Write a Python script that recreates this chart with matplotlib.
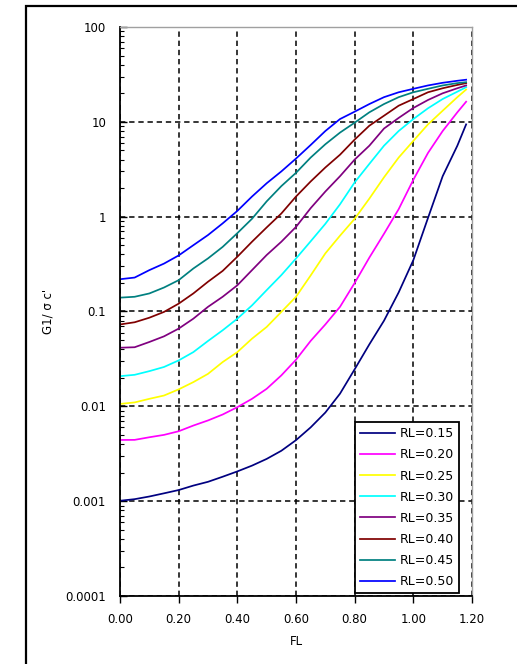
import matplotlib.pyplot as plt
from matplotlib.patches import Rectangle
from matplotlib.ticker import LogLocator, NullFormatter, FixedLocator

plt.rcParams['font.family'] = ['DejaVu Sans']

# ============================================================
# Data
# ============================================================
fl = [0.00, 0.05, 0.10, 0.15, 0.20, 0.25, 0.30, 0.35, 0.40, 0.45, 0.50, 0.55,
      0.60, 0.65, 0.70, 0.75, 0.80, 0.85, 0.90, 0.95, 1.00, 1.05, 1.10, 1.15, 1.18]

g_rl015 = [0.00101, 0.00105, 0.00112, 0.00121, 0.00131, 0.00146, 0.0016, 0.00181,
           0.00206, 0.00237, 0.00279, 0.0034, 0.0044, 0.006, 0.0086, 0.0136,
           0.0246, 0.045, 0.080, 0.159, 0.348, 0.97, 2.67, 5.6, 9.4]
g_rl020 = [0.00442, 0.00443, 0.00472, 0.0050, 0.00546, 0.00627, 0.0071, 0.0082,
           0.0098, 0.012, 0.0153, 0.0212, 0.031, 0.049, 0.073, 0.112,
           0.20, 0.37, 0.66, 1.2, 2.45, 4.7, 8.0, 12.6, 16.3]
g_rl025 = [0.0106, 0.011, 0.012, 0.013, 0.0151, 0.018, 0.022, 0.0293,
           0.0373, 0.0517, 0.0687, 0.099, 0.143, 0.24, 0.41, 0.63,
           0.95, 1.55, 2.6, 4.2, 6.3, 9.4, 13.1, 18.2, 21.9]
g_rl030 = [0.0208, 0.0215, 0.0235, 0.026, 0.0305, 0.0373, 0.0489, 0.0634,
           0.084, 0.116, 0.168, 0.242, 0.362, 0.55, 0.84, 1.35,
           2.3, 3.6, 5.6, 8.0, 10.7, 13.9, 17.4, 20.8, 23.2]
g_rl035 = [0.0415, 0.042, 0.0477, 0.0547, 0.066, 0.084, 0.112, 0.143,
           0.189, 0.273, 0.394, 0.544, 0.78, 1.23, 1.84, 2.67,
           4.0, 5.6, 8.5, 11.0, 14.0, 17.0, 20.0, 22.6, 24.2]
g_rl040 = [0.073, 0.077, 0.086, 0.099, 0.121, 0.155, 0.206, 0.268,
           0.378, 0.544, 0.77, 1.08, 1.63, 2.35, 3.3, 4.5,
           6.5, 9.1, 11.6, 14.8, 17.4, 20.5, 22.6, 24.5, 25.6]
g_rl045 = [0.14, 0.143, 0.155, 0.179, 0.214, 0.284, 0.363, 0.48,
           0.67, 0.95, 1.45, 2.1, 2.9, 4.2, 5.8, 7.7,
           9.8, 12.6, 15.4, 18.2, 20.5, 22.3, 24.2, 25.6, 26.2]
g_rl050 = [0.219, 0.228, 0.273, 0.32, 0.39, 0.50, 0.64, 0.85,
           1.15, 1.63, 2.25, 3.0, 4.1, 5.7, 8.0, 10.7,
           12.8, 15.4, 18.2, 20.5, 22.3, 24.2, 25.8, 27.1, 27.8]

series = [g_rl015, g_rl020, g_rl025, g_rl030, g_rl035, g_rl040, g_rl045, g_rl050]
labels = ["RL=0.15", "RL=0.20", "RL=0.25", "RL=0.30",
          "RL=0.35", "RL=0.40", "RL=0.45", "RL=0.50"]
colors = ["#000080", "#FF00FF", "#FFFF00", "#00FFFF",
          "#800080", "#800000", "#008080", "#0000FF"]

x_ticks = [0.0, 0.2, 0.4, 0.6, 0.8, 1.0, 1.2]
x_ticklabels = ["0.00", "0.20", "0.40", "0.60", "0.80", "1.00", "1.20"]
y_ticks = [0.0001, 0.001, 0.01, 0.1, 1, 10, 100]
y_ticklabels = ["0.0001", "0.001", "0.01", "0.1", "1", "10", "100"]

# ============================================================
# Figure
# ============================================================
W, H = 517, 664
fig = plt.figure(figsize=(W / 100, H / 100), dpi=100)
fig.patch.set_facecolor("white")

# outer chart frame (only left and top edges visible)
fig.patches.append(Rectangle((26 / W, -0.1), 1.2, 1 - 6 / H + 0.1,
                             transform=fig.transFigure, fill=False,
                             edgecolor="black", linewidth=1.6))

ax = fig.add_axes([120 / W, 1 - 596 / H, 352 / W, 569 / H])

for ys, lab, c in zip(series, labels, colors):
    ax.plot(fl, ys, color=c, linewidth=1.25, label=lab)

ax.set_yscale("log")
ax.set_xlim(0, 1.2)
ax.set_ylim(0.0001, 100)

ax.xaxis.set_major_locator(FixedLocator(x_ticks))
ax.set_xticklabels(x_ticklabels)
ax.yaxis.set_major_locator(FixedLocator(y_ticks))
ax.set_yticklabels(y_ticklabels)
ax.yaxis.set_minor_locator(LogLocator(base=10, subs=range(2, 10), numticks=20))
ax.yaxis.set_minor_formatter(NullFormatter())

ax.tick_params(axis="x", direction="out", length=5, width=1.0, labelsize=8.5, pad=7)
ax.tick_params(axis="y", which="major", direction="in", length=5, width=1.0,
               labelsize=8.5, pad=10)
ax.tick_params(axis="y", which="minor", direction="in", length=3, width=0.8)

ax.grid(True, which="major", color="black", linestyle=(0, (3.5, 2.5)), linewidth=1.1)

for side in ["left", "bottom"]:
    ax.spines[side].set_color("black")
    ax.spines[side].set_linewidth(1.3)
for side in ["top", "right"]:
    ax.spines[side].set_color("#a0a0a0")
    ax.spines[side].set_linewidth(1.0)

ax.set_xlabel("FL", fontsize=8.5, labelpad=7)
ax.set_ylabel("G1/ σ c'", fontsize=8.5, labelpad=8)

leg = ax.legend(loc="lower right", bbox_to_anchor=(0.963, 0.005),
                fontsize=9, frameon=True, fancybox=False,
                handlelength=2.8, handletextpad=0.4, labelspacing=0.65,
                borderpad=0.4, borderaxespad=0.0)
leg.get_frame().set_edgecolor("black")
leg.get_frame().set_linewidth(1.3)
leg.get_frame().set_facecolor("white")
leg.get_frame().set_alpha(1.0)

fig.savefig("out.png", dpi=100)
